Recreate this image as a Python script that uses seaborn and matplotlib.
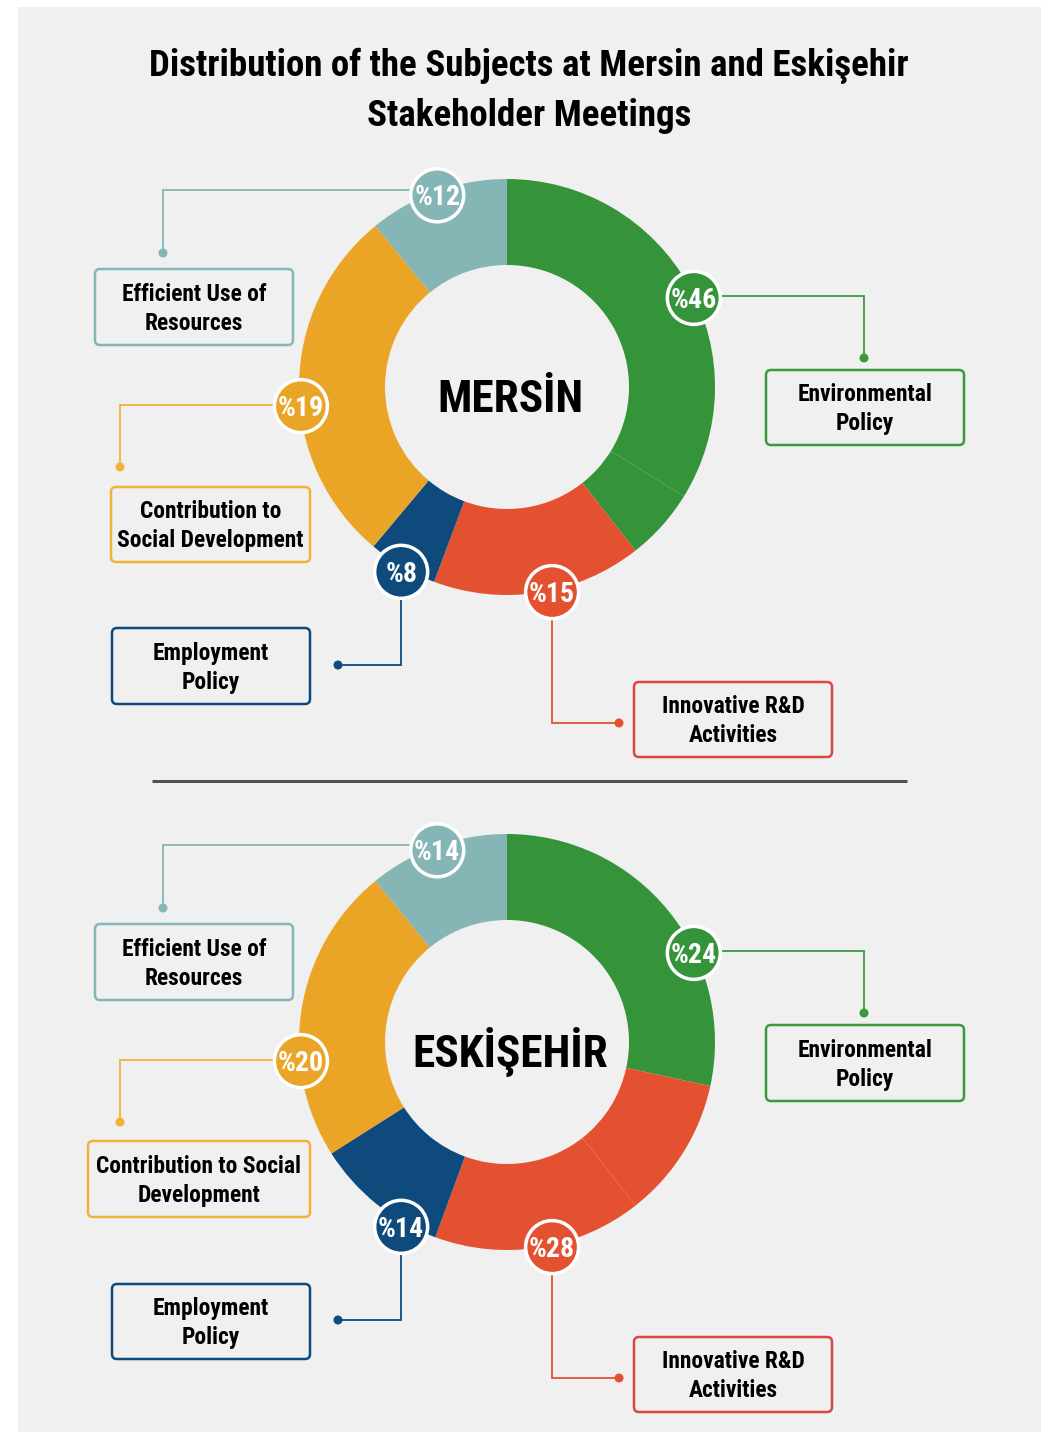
import numpy as np
import pandas as pd
import seaborn as sns
import matplotlib
matplotlib.use("Agg")
import matplotlib.pyplot as plt
from matplotlib import font_manager as fm
from matplotlib.patches import FancyBboxPatch, Circle, Rectangle

# ---------------- data ----------------
categories = ["Environmental Policy", "Innovative R&D Activities", "Employment Policy",
              "Contribution to Social Development", "Efficient Use of Resources"]
mersin_pct = [46, 15, 8, 19, 12]
eskisehir_pct = [24, 28, 14, 20, 14]

# ring segments as drawn, clockwise from 12 o'clock (share of ring)
mersin_ring_shares = [33.8, 5.6, 16.3, 5.4, 28.0, 10.9]
mersin_ring_cats = [0, 0, 1, 2, 3, 4]
eskisehir_ring_shares = [28.4, 11.0, 16.2, 10.4, 23.1, 10.9]
eskisehir_ring_cats = [0, 1, 1, 2, 3, 4]

box_text_mersin = [["Environmental", "Policy"], ["Innovative R&D", "Activities"],
                   ["Employment", "Policy"], ["Contribution to", "Social Development"],
                   ["Efficient Use of", "Resources"]]
box_text_eskisehir = [["Environmental", "Policy"], ["Innovative R&D", "Activities"],
                      ["Employment", "Policy"], ["Contribution to Social", "Development"],
                      ["Efficient Use of", "Resources"]]
title_lines = ["Distribution of the Subjects at Mersin and Eskişehir", "Stakeholder Meetings"]
city_names = ["MERSİN", "ESKİŞEHİR"]

seg_colors = sns.color_palette(["#35933a", "#e45131", "#0e4a7c", "#eba526", "#85b6b5"])
box_colors = ["#3a9a3c", "#d9473d", "#0e4a7c", "#f2b23a", "#85b6b5"]
line_colors = ["#3a9a3c", "#e45131", "#0e4a7c", "#f2b23a", "#85b6b5"]

# ---------------- layout (pixels, y down) ----------------
W, H = 1044, 1432
DPI = 72
BG = "#f0f0f0"
CX = 507
CY = [387, 1042]
R_OUT, R_W = 208, 86
badge_angle = [64.5, 167.6, 209.8, 264.7, 340.0]
badge_r = [207, 210, 213, 207, 204]
connectors = [
    [(694, 296), (864, 296), (864, 358)],
    [(552, 592), (552, 723), (619, 723)],
    [(401, 572), (401, 665), (338, 665)],
    [(301, 405), (120, 405), (120, 467)],
    [(438, 190), (163, 190), (163, 253)],
]
boxes_m = [(766, 370, 964, 445), (634, 682, 832, 757), (112, 628, 310, 704),
           (111, 487, 310, 562), (95, 269, 293, 345)]
boxes_e = [(766, 1025, 964, 1101), (634, 1337, 832, 1412), (112, 1284, 310, 1359),
           (88, 1141, 310, 1217), (95, 924, 293, 1000)]
DY = 655


def Y(y):
    return H - y


sns.set_theme(style="white")
plt.rcParams["font.family"] = ["DejaVu Sans"]


def pick_font():
    entries = fm.fontManager.ttflist

    def isbold(f):
        w = f.weight
        if isinstance(w, str):
            return w in ("bold", "heavy", "extra bold", "black", "demibold", "semibold", "demi")
        return w >= 600

    pref = ["Liberation Sans Narrow", "Roboto Condensed", "Open Sans Condensed",
            "Noto Sans Condensed", "DejaVu Sans Condensed", "Arial Narrow"]
    for name in pref:
        cand = [f for f in entries if f.name == name and f.style == "normal"]
        if cand:
            b = [f for f in cand if isbold(f)]
            return fm.FontProperties(fname=(b or cand)[0].fname)
    cand = [f for f in entries if f.style == "normal" and (
        f.stretch in ("condensed", "semi-condensed", "extra-condensed", "ultra-condensed")
        or "Condensed" in f.name or "Narrow" in f.name)]
    if cand:
        b = [f for f in cand if isbold(f)]
        return fm.FontProperties(fname=(b or cand)[0].fname)
    return fm.FontProperties(family="DejaVu Sans", weight="bold")


FP = pick_font()


def fp_at(size):
    p = FP.copy()
    p.set_size(size)
    return p


fig = plt.figure(figsize=(W / DPI, H / DPI), dpi=DPI, facecolor="white")
ax = fig.add_axes([0, 0, 1, 1])
ax.set_facecolor("white")
renderer = fig.canvas.get_renderer()


def text_w(s, size):
    t = ax.text(0, 0, s, fontproperties=fp_at(size))
    bb = t.get_window_extent(renderer=renderer)
    t.remove()
    return bb.width


CAP = 0.72


def fit(s, target_w, max_size):
    return min(max_size, 100.0 * target_w / text_w(s, 100))


# background panel
ax.add_patch(Rectangle((18, 0), 1041 - 18, H - 7, facecolor=BG, edgecolor="none", zorder=0))

# donuts
for k, (shares, cats) in enumerate([(mersin_ring_shares, mersin_ring_cats),
                                    (eskisehir_ring_shares, eskisehir_ring_cats)]):
    cols = [seg_colors[c] for c in cats]
    wedges, _ = ax.pie(shares, colors=cols, startangle=90, counterclock=False,
                       center=(CX, Y(CY[k])), radius=R_OUT, normalize=True,
                       wedgeprops=dict(width=R_W, edgecolor="none", linewidth=0))
    for w in wedges:
        w.set_zorder(2)

ax.set_xlim(0, W)
ax.set_ylim(0, H)
ax.set_aspect("equal")
ax.axis("off")

# font sizes
s_badge = fit("%46", 46, 36)
s_box = fit("Efficient Use of", 145, 30)
s_title = fit(title_lines[0], 758, 50)
s_city = fit(city_names[0], 146, 66)

# separator
ax.plot([152, 907], [Y(781), Y(781)], color="#4b5353", lw=3, solid_capstyle="butt", zorder=2)

# title
for line, base in zip(title_lines, [76, 126]):
    ax.text(529, Y(base), line, fontproperties=fp_at(s_title), ha="center", va="baseline",
            color="black", zorder=6)

for k, (pcts, boxes, btexts) in enumerate([(mersin_pct, boxes_m, box_text_mersin),
                                           (eskisehir_pct, boxes_e, box_text_eskisehir)]):
    dy = DY * k
    cy = Y(CY[k])
    # city name
    ax.text(CX + 3, Y(412 + dy), city_names[k], fontproperties=fp_at(s_city), ha="center",
            va="baseline", color="black", zorder=6)
    for i in range(len(categories)):
        col = seg_colors[i]
        # connector
        pts = connectors[i]
        xs = [p[0] for p in pts]
        ys = [Y(p[1] + dy) for p in pts]
        ax.plot(xs, ys, color=line_colors[i], lw=1.8, zorder=3, solid_joinstyle="miter")
        ax.add_patch(Circle((xs[-1], ys[-1]), 4.5, facecolor=line_colors[i],
                            edgecolor="none", zorder=3))
        # badge
        th = np.deg2rad(badge_angle[i])
        bx = CX + badge_r[i] * np.sin(th)
        by = cy + badge_r[i] * np.cos(th)
        ax.add_patch(Circle((bx, by), 26.5, facecolor=col, edgecolor="white", lw=3.5, zorder=5))
        ax.text(bx, by - s_badge * CAP / 2, f"%{pcts[i]}", fontproperties=fp_at(s_badge),
                ha="center", va="baseline", color="white", zorder=6)
        # box
        x0, y0, x1, y1 = boxes[i]
        ax.add_patch(FancyBboxPatch((x0, Y(y1)), x1 - x0, y1 - y0,
                                    boxstyle="round,pad=0,rounding_size=5",
                                    facecolor=BG, edgecolor=box_colors[i], lw=2.5, zorder=4))
        bcx = (x0 + x1) / 2
        bcy = (y0 + y1) / 2
        for j, line in enumerate(btexts[i]):
            base = bcy + (-14.5 if j == 0 else 14.5) + s_box * CAP / 2
            ax.text(bcx, Y(base), line, fontproperties=fp_at(s_box), ha="center",
                    va="baseline", color="black", zorder=6)

fig.savefig("out.png", dpi=DPI, facecolor="white")
